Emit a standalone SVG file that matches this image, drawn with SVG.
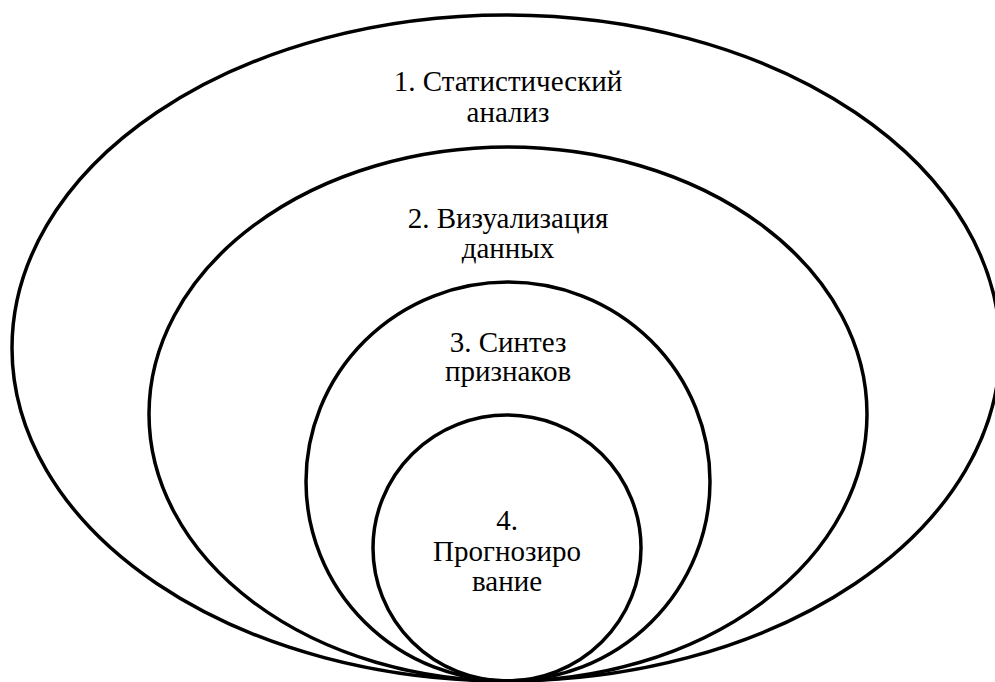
<svg xmlns="http://www.w3.org/2000/svg" width="995" height="682" viewBox="0 0 995 682">
<style>
.ring{fill:none;stroke:#000;stroke-width:3.5}
.lbl{font-family:"Liberation Serif","Times New Roman",serif;font-size:29px;fill:#000;text-anchor:middle}
</style>
<rect width="995" height="682" fill="#fff"/>
<g id="level1">
<ellipse class="ring" cx="506" cy="348" rx="494" ry="333"/>
<text class="lbl" x="508" y="91">1. Статистический</text>
<text class="lbl" x="508" y="122">анализ</text>
</g>
<g id="level2">
<ellipse class="ring" cx="508" cy="414" rx="359" ry="267"/>
<text class="lbl" x="508" y="228">2. Визуализация</text>
<text class="lbl" x="508" y="258">данных</text>
</g>
<g id="level3">
<ellipse class="ring" cx="508" cy="481.5" rx="202" ry="199.5"/>
<text class="lbl" x="508" y="352">3. Синтез</text>
<text class="lbl" x="508" y="381">признаков</text>
</g>
<g id="level4">
<ellipse class="ring" cx="507" cy="548" rx="134" ry="133"/>
<text class="lbl" x="507" y="530">4.</text>
<text class="lbl" x="507" y="561">Прогнозиро</text>
<text class="lbl" x="507" y="591">вание</text>
</g>
<g id="connectors"></g>
</svg>
